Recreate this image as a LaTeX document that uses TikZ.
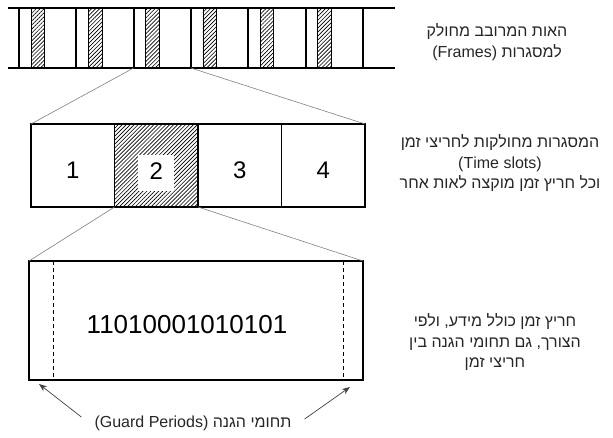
\documentclass[tikz,border=0pt]{standalone}
\usepackage{fontspec}
\setmainfont{Liberation Sans}
\newfontfamily\hebfont[Script=Hebrew]{Liberation Sans}
\TeXXeTstate=1
\usetikzlibrary{arrows.meta,positioning,patterns.meta,calc}
\tikzset{
  %hatching for the chosen slots
  hatch/.style={pattern={Lines[angle=45,distance=2.8pt,line width=0.65pt]}},
  %one time slot
  slot/.style={
    rectangle,
    draw=black, line width=1.8pt,
    minimum width=83.5pt,
    minimum height=83pt,
    inner sep=0pt, outer sep=0pt,
    text height=26pt, text depth=0pt,
    font=\fontsize{24}{28}\selectfont},
  % thin zoom lines between the rows
  zoomline/.style={draw=black!50, line width=0.6pt},
  note/.style={align=center, text=black!85, font=\hebfont\fontsize{16}{20.5}\selectfont},
  pil/.style={
    -{Stealth[length=8pt,width=6pt]},
    draw=black!75,
    line width=0.7pt}
}

\begin{document}
\begin{tikzpicture}[x=1pt,y=-1pt]
  \useasboundingbox (0,0) rectangle (613,437);
  % multiplexed signal cut into frames
  \foreach \i in {0,...,5}
    \draw[hatch, line width=0.6pt] (31+57.3*\i,8) rectangle ++(13.5,60);
  \foreach \i in {0,...,6}
    \draw[line width=2pt] (19+57.3*\i,8) -- ++(0,60) coordinate (f\i);
  \draw[line width=2pt] (8,8) -- (395,8);
  \draw[line width=2pt] (8,68) -- (395,68);
  \node[note] (framesnote) at (497,42) {\beginR האות המרובב מחולק\endR\\(Frames) \beginR למסגרות\endR};

  % one frame and its slots
  \node[slot] (s1) at (72.75,165.5) {1};
  \node[slot,hatch,right=0pt of s1] (s2) {};
  \node[fill=white,minimum size=36pt,inner sep=0pt,text depth=4pt,yshift=-7.5pt,
        font=\fontsize{24}{28}\selectfont] (n2) at (s2) {2};
  \node[slot,right=0pt of s2] (s3) {3};
  \node[slot,right=0pt of s3] (s4) {4};
  \node[note] (slotsnote) at (500,163) {\beginR המסגרות מחולקות לחריצי זמן\endR\\(Time slots)\\\beginR וכל חריץ זמן מוקצה לאות אחר\endR};
  \draw[zoomline] (f2) -- (s1.north west);
  \draw[zoomline] (f3) -- (s4.north east);

  % inside one slot
  \node[draw, line width=1.8pt, minimum width=334pt, minimum height=119pt, outer sep=0pt] (slotbox) at (196,320.5) {};
  \node[font=\fontsize{26}{30}\selectfont] (bits) at (187,325) {11010001010101};
  \draw[zoomline] (s2.south west) -- (slotbox.north west);
  \draw[zoomline] (s2.south east) -- (slotbox.north east);
  \draw[dashed, dash pattern=on 4pt off 3pt, line width=0.8pt]
    ($(slotbox.north west)+(24,0)$) -- ($(slotbox.south west)+(24,0)$);
  \draw[dashed, dash pattern=on 4pt off 3pt, line width=0.8pt]
    ($(slotbox.north east)+(-20,0)$) -- ($(slotbox.south east)+(-20,0)$);
  \node[note] (bitsnote) at (495,342) {\beginR חריץ זמן כולל מידע, ולפי\endR\\\beginR הצורך, גם תחומי הגנה בין\endR\\\beginR חריצי זמן\endR};

  % guard periods
  \coordinate (tipl) at ($(slotbox.south west)+(10,4)$);
  \coordinate (tipr) at ($(slotbox.south east)+(-13,7)$);
  \node[note, inner xsep=13pt] (guard) at (193,423) {(Guard Periods) \beginR תחומי הגנה\endR};
  \draw[pil] ([yshift=6pt]guard.west) -- (tipl);
  \draw[pil] ([yshift=4pt]guard.east) -- (tipr);
\end{tikzpicture}
\end{document}
